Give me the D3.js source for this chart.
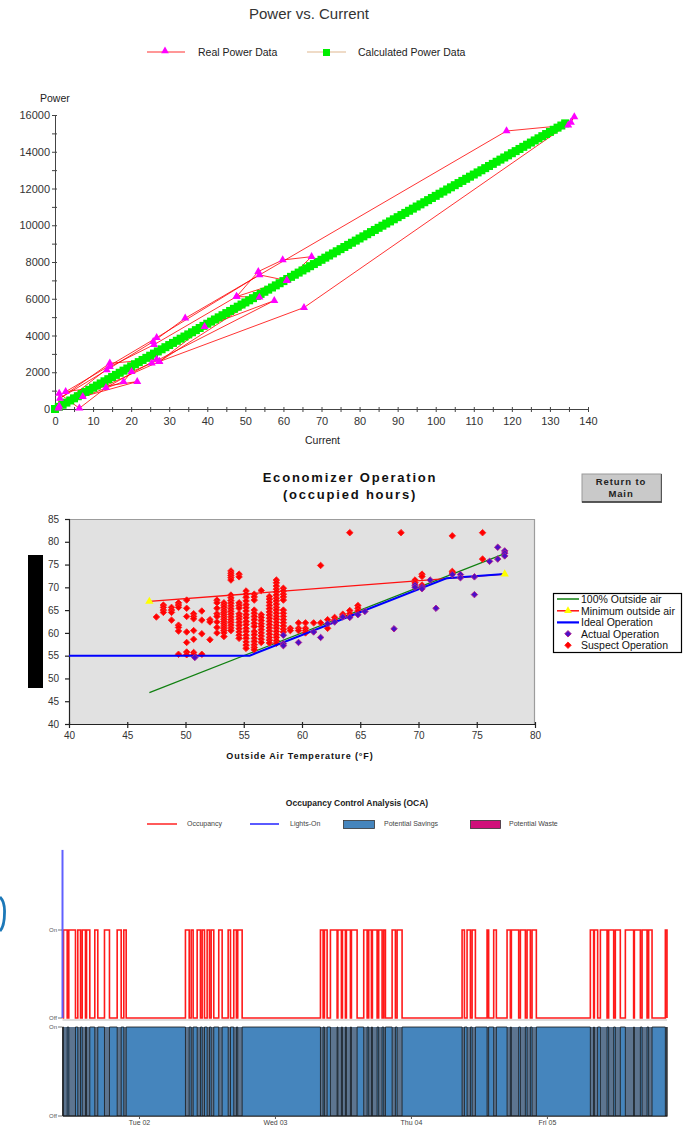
<!DOCTYPE html>
<html><head><meta charset="utf-8">
<script src="https://cdnjs.cloudflare.com/ajax/libs/d3/7.8.5/d3.min.js"></script>
<style>
body{margin:0;background:#fff}
svg{display:block}
text{font-family:"Liberation Sans",Arial,Helvetica,sans-serif}
</style>
</head><body>
<svg id="c" width="690" height="1126"></svg>
<script>
// ---------------- Chart 1: Power vs. Current ----------------
const currentTicks = [0,10,20,30,40,50,60,70,80,90,100,110,120,130,140];
const currentMinor = [5,15,25,35,45,55,65,75,85,95,105,115,125,135];
const powerTicks = [0,2000,4000,6000,8000,10000,12000,14000,16000];
const powerMinor = [1000,3000,5000,7000,9000,11000,13000,15000];

const calcCurrent = [0,1,2,3,4,5,6,7,8,9,10,11,12,13,14,15,16,17,18,19,20,21,22,23,24,25,26,27,28,29,30,31,32,33,34,35,36,37,38,39,40,41,42,43,44,45,46,47,48,49,50,51,52,53,54,55,56,57,58,59,60,61,62,63,64,65,66,67,68,69,70,71,72,73,74,75,76,77,78,79,80,81,82,83,84,85,86,87,88,89,90,91,92,93,94,95,96,97,98,99,100,101,102,103,104,105,106,107,108,109,110,111,112,113,114,115,116,117,118,119,120,121,122,123,124,125,126,127,128,129,130,131,132,133,134];
const calcPower = [0,116,232,348,464,580,696,812,928,1044,1160,1276,1392,1508,1624,1740,1856,1972,2088,2204,2320,2436,2552,2668,2784,2900,3016,3132,3248,3364,3480,3596,3712,3828,3944,4060,4176,4292,4408,4524,4640,4756,4872,4988,5104,5220,5336,5452,5568,5684,5800,5916,6032,6148,6264,6380,6496,6612,6728,6844,6960,7076,7192,7308,7424,7540,7656,7772,7888,8004,8120,8236,8352,8468,8584,8700,8816,8932,9048,9164,9280,9396,9512,9628,9744,9860,9976,10092,10208,10324,10440,10556,10672,10788,10904,11020,11136,11252,11368,11484,11600,11716,11832,11948,12064,12180,12296,12412,12528,12644,12760,12876,12992,13108,13224,13340,13456,13572,13688,13804,13920,14036,14152,14268,14384,14500,14616,14732,14848,14964,15080,15196,15312,15428,15544];

const realCurrent = [0.9,1.1,6.4,13.4,26.7,14.4,1.3,13.6,25.8,34.2,118.6,134.8,136.4,135.5,65.4,27.4,53.7,47.7,53.4,59.8,67.4,60.9,53.7,26.7,2.8,21.6,7.3,18.0,20.1,25.4,57.6,39.3,27.4,1.1,14.4,26.0,47.7,60.9];
const realPower   = [40,850,40,1160,2700,2490,580,2120,3670,4940,15130,15450,15900,15600,5520,2580,6080,6120,7480,8110,8290,6990,7300,3880,940,1490,670,1490,2030,2490,5900,4480,2580,150,2300,3500,6120,7000];

// ---------------- Chart 2: Economizer Operation ----------------
const econXTicks = [40,45,50,55,60,65,70,75,80];
const econYTicks = [40,45,50,55,60,65,70,75,80,85];
const fullOATemp = [46.9,77.4];
const fullOAVal  = [46.9,77.4];
const minOATemp = [46.9,77.4];
const minOAVal  = [66.9,72.9];
const idealTemp = [40,55.5,72.4,77.4];
const idealVal  = [55,55,72.0,72.9];
const suspectTemps = [47.5,48.1,48.8,49.4,50.1,50.7,51.4,52.1,52.7,53.3,53.9,54.6,55.2,55.9,56.5,57.2,57.8,58.4,59.0,59.7,60.3,61.0,61.6,62.2,62.8,63.5,64.1,64.8,68.5,69.7,70.3,72.9,75.5];
const suspectVals = [
  [63.5],
  [66.1,65.6,65.0,64.5],
  [65.6,65.0,64.5,62.8],
  [66.6,66.1,65.6,61.7,61.2,60.4,55.3],
  [67.2,65.4,63.6,60.2,57.9,55.8,55.2],
  [64.2,63.6,63.1,60.5,58.6,55.7,55.2],
  [64.8,62.8,59.8,55.3],
  [62.9,62.4,58.5],
  [67.2,66.6,65.4,64.2,63.6,62.4,61.2,60.0],
  [66.6,66.1,65.6,65.0,64.5,64.0,63.5,63.0,62.5,62.0,61.5,61.0,60.5,60.0,59.2],
  [73.6,73.1,72.6,72.1,71.6,68.3,67.7,67.1,66.5,65.9,65.3,64.7,64.1,63.5,62.9,62.3,61.7,61.1,60.5],
  [72.9,72.3,66.6,66.0,65.4,64.2,63.6,63.0,62.3,61.6,60.9,60.2,59.5,58.8],
  [69.2,68.5,67.8,67.0,66.2,65.5,64.8,64.0,63.3,62.5,61.8,61.0,60.3,59.5,58.8,58.0,57.3,56.6],
  [68.5,67.9,67.2,65.0,64.3,63.6,62.9,62.1,61.4,60.3,59.6,58.8,58.1,57.4,56.8,56.3],
  [69.3,64.0,63.4,62.7,62.0,61.4,60.7,60.0,59.3,58.6,57.9],
  [68.0,67.4,66.7,66.0,65.3,64.6,63.9,63.2,62.5,61.8,61.1,60.4,59.7,59.0,58.4,57.8],
  [71.6,71.0,70.3,69.6,69.0,68.3,67.6,67.0,66.3,65.6,65.0,64.3,63.6,63.0,62.3,61.6,61.0,60.3,59.6,59.0,58.3,57.7],
  [69.8,69.2,68.5,67.9,67.2,65.0,64.3,63.6,62.9,62.2,61.5,60.8,60.2],
  [61.0,60.5],
  [62.2,61.0,60.5],
  [62.2,61.0,60.5,60.0],
  [62.2],
  [74.8,62.2],
  [62.9,61.0],
  [63.4,62.8],
  [64.1,63.7],
  [82.0,64.9,64.2,63.6],
  [66.0,65.4,64.8],
  [82.0],
  [71.6,71.0],
  [72.9,72.4,70.5],
  [81.3,73.5,73.1],
  [82.0,76.2]
];
const actualTemp = [50.8,58.4,58.4,58.4,59.7,61.0,61.6,62.2,62.8,63.5,64.1,64.8,65.4,67.9,69.7,69.7,70.3,70.3,71.0,71.5,72.9,73.6,73.6,74.8,74.8,76.1,76.8,76.8,77.4,77.4,77.4];
const actualVal  = [54.6,59.5,57.6,57.2,57.9,60.2,59.0,62.0,62.4,63.5,63.4,64.0,64.7,60.9,70.5,70.0,70.1,69.7,71.6,65.4,72.8,72.8,72.1,72.3,68.4,75.7,78.8,76.2,78.0,77.5,76.9];
const econLegend = ["100% Outside air","Minimum outside air","Ideal Operation","Actual Operation","Suspect Operation"];

// ---------------- Chart 3: Occupancy Control Analysis ----------------
const occRangeH = [10.5,117.2];   // hours from Mon 01 00:00
const occStartH = [10.68,11.61,13.2,13.98,14.74,16.2,17.91,20.15,21.32,
  32.2,33.21,34.27,35.15,36.03,36.74,38.08,39.74,40.73,41.43,
  56.03,56.73,57.79,59.11,59.91,60.61,61.5,63.67,64.55,65.2,66.31,67.2,68.68,69.56,
  81.03,81.91,82.8,85.44,86.61,88.97,89.73,91.32,92.5,93.38,
  103.67,104.38,105.44,106.9,108.08,109.85,111.44,112.8,113.96,116.91];
const occEndH = [11.33,12.79,13.68,14.56,15.32,16.73,18.79,20.86,21.74,
  32.86,33.56,34.85,35.56,36.44,37.2,38.68,40.15,41.2,42.21,
  56.5,57.21,58.97,59.73,60.44,61.32,62.5,64.27,65.03,66.03,66.91,67.5,69.26,70.44,
  81.44,82.5,83.38,85.72,87.08,89.55,91.02,92.2,93.08,94.14,
  104.25,104.96,106.62,107.79,108.96,111.31,112.5,113.68,114.56,117.2];
const lightsH = [10.5,10.5];
const lightsVal = [1.91,0];
const dayTicksH = [24,48,72,96];
const ocaLegend = ["Occupancy","Lights-On","Potential Savings","Potential Waste"];

// =====================================================================
const svg = d3.select("#c");

// ---------- Chart 1 ----------
(function(){
  const g = svg.append("g");
  const x = d3.scaleLinear().domain([0,140]).range([55,588]);
  const y = d3.scaleLinear().domain([0,16000]).range([409,115]);

  g.append("text").attr("x",309).attr("y",19).attr("text-anchor","middle")
    .attr("font-size",15).attr("fill","#333").text("Power vs. Current");

  const lg = g.append("g");
  lg.append("line").attr("x1",147).attr("x2",185).attr("y1",52).attr("y2",52).attr("stroke","#ff3030").attr("stroke-width",1.2);
  lg.append("path").attr("d",d3.symbol(d3.symbolTriangle,26)()).attr("transform","translate(165,51)").attr("fill","#ff00ff");
  lg.append("text").attr("x",198).attr("y",56).attr("font-size",10.5).attr("fill","#222").text("Real Power Data");
  lg.append("line").attr("x1",307).attr("x2",346).attr("y1",52).attr("y2",52).attr("stroke","#e0b890").attr("stroke-width",1.2);
  lg.append("rect").attr("x",323).attr("y",49).attr("width",7).attr("height",7).attr("fill","#00ee00");
  lg.append("text").attr("x",358).attr("y",56).attr("font-size",10.5).attr("fill","#222").text("Calculated Power Data");

  const ya = g.append("g").attr("transform","translate(55,0)")
    .call(d3.axisLeft(y).tickValues(powerTicks).tickSize(3).tickSizeOuter(0).tickPadding(2).tickFormat(d3.format("d")));
  const ym = g.append("g").attr("transform","translate(55,0)")
    .call(d3.axisLeft(y).tickValues(powerMinor).tickSize(3).tickSizeOuter(0).tickFormat(""));
  ym.select(".domain").remove();
  const xa = g.append("g").attr("transform","translate(0,409)")
    .call(d3.axisBottom(x).tickValues(currentTicks).tickSize(3).tickSizeOuter(0).tickPadding(5));
  const xm = g.append("g").attr("transform","translate(0,409)")
    .call(d3.axisBottom(x).tickValues(currentMinor).tickSize(3).tickSizeOuter(0).tickFormat(""));
  xm.select(".domain").remove();
  [ya,ym].forEach(a=>a.selectAll(".tick line").attr("x2",-3).attr("x1",2));
  [xa,xm].forEach(a=>a.selectAll(".tick line").attr("y1",-2).attr("y2",3));
  [ya,ym,xa,xm].forEach(a=>{
    a.selectAll(".domain,.tick line").attr("stroke","#444");
    a.selectAll("text").attr("font-size",11).attr("fill","#333").attr("font-family","Liberation Sans, Arial, sans-serif");
  });

  g.append("text").attr("x",40).attr("y",102).attr("font-size",10.5).attr("fill","#222").text("Power");
  g.append("text").attr("x",305).attr("y",444).attr("font-size",10.5).attr("fill","#222").text("Current");

  const calc = calcCurrent.map((c,i)=>[c,calcPower[i]]);
  const real = realCurrent.map((c,i)=>[c,realPower[i]]);
  const line = d3.line().x(d=>x(d[0])).y(d=>y(d[1]));

  g.append("path").datum(calc).attr("d",line).attr("fill","none").attr("stroke","#e0b890").attr("stroke-width",1);
  g.append("path").datum(real).attr("d",line).attr("fill","none").attr("stroke","#ff0000").attr("stroke-width",1).attr("stroke-opacity",0.8);
  g.selectAll(".sq").data(calc).join("rect").attr("x",d=>x(d[0])-4).attr("y",d=>y(d[1])-4)
    .attr("width",8).attr("height",8).attr("fill","#00f000");
  g.selectAll(".tri").data(real).join("path").attr("d",d3.symbol(d3.symbolTriangle,28)())
    .attr("transform",d=>`translate(${x(d[0])},${y(d[1])})`).attr("fill","#ff00ff");
})();

// ---------- Chart 2 ----------
(function(){
  const g = svg.append("g");
  const x = d3.scaleLinear().domain([40,80]).range([69,535]);
  const y = d3.scaleLinear().domain([40,85]).range([724,519]);

  g.append("text").attr("x",350).attr("y",482).attr("text-anchor","middle").attr("font-size",13)
    .attr("font-weight","bold").attr("letter-spacing","1.8px").attr("fill","#111").text("Economizer Operation");
  g.append("text").attr("x",350).attr("y",499).attr("text-anchor","middle").attr("font-size",13)
    .attr("font-weight","bold").attr("letter-spacing","1.8px").attr("fill","#111").text("(occupied hours)");

  g.append("rect").attr("x",582).attr("y",474).attr("width",79).attr("height",28).attr("fill","#c9c9c9").attr("stroke","#9a9a9a");
  g.append("line").attr("x1",582).attr("x2",662).attr("y1",502).attr("y2",502).attr("stroke","#333").attr("stroke-width",1.5);
  g.append("line").attr("x1",661.5).attr("x2",661.5).attr("y1",474).attr("y2",502).attr("stroke","#555").attr("stroke-width",1);
  g.append("text").attr("x",621).attr("y",485).attr("text-anchor","middle").attr("font-size",9.5).attr("font-weight","bold")
    .attr("letter-spacing","0.9px").attr("fill","#222").text("Return to");
  g.append("text").attr("x",621).attr("y",497).attr("text-anchor","middle").attr("font-size",9.5).attr("font-weight","bold")
    .attr("letter-spacing","0.9px").attr("fill","#222").text("Main");

  g.append("rect").attr("x",69).attr("y",519).attr("width",466).attr("height",205).attr("fill","#e1e1e1");
  g.append("path").attr("d","M69,519.5H534.5V724").attr("fill","none").attr("stroke","#9c9c9c").attr("stroke-width",1.2);

  const ya = g.append("g").attr("transform","translate(69,0)")
    .call(d3.axisLeft(y).tickValues(econYTicks).tickSize(4).tickSizeOuter(0).tickPadding(6));
  const xa = g.append("g").attr("transform","translate(0,724)")
    .call(d3.axisBottom(x).tickValues(econXTicks).tickSize(4).tickSizeOuter(0).tickPadding(4));
  ya.selectAll(".tick line").attr("x1",1);
  xa.selectAll(".tick line").attr("y1",-2);
  [ya,xa].forEach(a=>{
    a.selectAll(".domain,.tick line").attr("stroke","#222").attr("stroke-width",1.2);
    a.selectAll("text").attr("font-size",10).attr("fill","#333").attr("font-family","Liberation Sans, Arial, sans-serif");
  });

  g.append("text").attr("x",300).attr("y",759).attr("text-anchor","middle").attr("font-size",9)
    .attr("font-weight","bold").attr("letter-spacing","0.9px").attr("fill","#111").text("Outside Air Temperature (°F)");

  g.append("rect").attr("x",28).attr("y",555).attr("width",15).attr("height",133).attr("fill","#000");

  const line = d3.line().x(d=>x(d[0])).y(d=>y(d[1]));
  const full = fullOATemp.map((t,i)=>[t,fullOAVal[i]]);
  const minOA = minOATemp.map((t,i)=>[t,minOAVal[i]]);
  const ideal = idealTemp.map((t,i)=>[t,idealVal[i]]);
  g.append("path").datum(full).attr("d",line).attr("fill","none").attr("stroke","#108010").attr("stroke-width",1.2);
  g.append("path").datum(minOA).attr("d",line).attr("fill","none").attr("stroke","#ff1010").attr("stroke-width",1.3);

  const suspect = [];
  suspectTemps.forEach((t,i)=>suspectVals[i].forEach(v=>suspect.push([t,v])));
  const dia = d3.symbol(d3.symbolSquare,21)();
  const pos = d=>`translate(${x(d[0])},${y(d[1])}) rotate(45)`;
  g.selectAll(".sus").data(suspect).join("path").attr("d",dia)
    .attr("transform",pos).attr("fill","#ff0000").attr("stroke","#ff2020").attr("stroke-width",0.9);
  g.append("path").datum(ideal).attr("d",line).attr("fill","none").attr("stroke","#0000ff").attr("stroke-width",2);
  const actual = actualTemp.map((t,i)=>[t,actualVal[i]]);
  g.selectAll(".act").data(actual).join("path").attr("d",dia)
    .attr("transform",pos).attr("fill","#4a10c8").attr("stroke","#b02090").attr("stroke-width",0.9);
  g.selectAll(".ytri").data(minOA).join("path").attr("d",d3.symbol(d3.symbolTriangle,30)())
    .attr("transform",d=>`translate(${x(d[0])},${y(d[1])})`).attr("fill","#ffff00");

  const L = g.append("g");
  L.append("rect").attr("x",553.5).attr("y",593.5).attr("width",128).attr("height",59).attr("fill","#fff").attr("stroke","#000").attr("stroke-width",1.2);
  const rows = [599,610.8,622.4,633.8,645.2];
  econLegend.forEach((name,i)=>{
    const yy = rows[i];
    if(i===0) L.append("line").attr("x1",557).attr("x2",579).attr("y1",yy).attr("y2",yy).attr("stroke","#108010").attr("stroke-width",1.5);
    if(i===1){ L.append("line").attr("x1",557).attr("x2",579).attr("y1",yy).attr("y2",yy).attr("stroke","#ff1010").attr("stroke-width",1.5);
      L.append("path").attr("d",d3.symbol(d3.symbolTriangle,26)()).attr("transform",`translate(568,${yy})`).attr("fill","#ffff00"); }
    if(i===2) L.append("line").attr("x1",557).attr("x2",579).attr("y1",yy).attr("y2",yy).attr("stroke","#0000ff").attr("stroke-width",2.2);
    if(i===3) L.append("path").attr("d",dia).attr("transform",`translate(568,${yy}) rotate(45)`).attr("fill","#4a10c8").attr("stroke","#b02090").attr("stroke-width",0.9);
    if(i===4) L.append("path").attr("d",dia).attr("transform",`translate(568,${yy}) rotate(45)`).attr("fill","#ff0000").attr("stroke","#ff2020").attr("stroke-width",0.9);
    L.append("text").attr("x",581).attr("y",yy).attr("dy","0.36em").attr("font-size",10.5).attr("fill","#111").text(name);
  });
})();

// ---------- Chart 3 ----------
(function(){
  const g = svg.append("g");
  const base = new Date(2001,0,1).getTime();
  const hr = h => new Date(base + h*3600000);
  const x = d3.scaleTime().domain([hr(occRangeH[0]),hr(occRangeH[1])]).range([62.5,667]);
  const yO = d3.scaleLinear().domain([0,1]).range([1018,930]);
  const yS = d3.scaleLinear().domain([0,1]).range([1116,1027]);

  g.append("text").attr("x",357).attr("y",806).attr("text-anchor","middle").attr("font-size",8.5)
    .attr("font-weight","bold").attr("fill","#222").text("Occupancy Control Analysis (OCA)");

  const ly = 824;
  g.append("line").attr("x1",147).attr("x2",177).attr("y1",ly).attr("y2",ly).attr("stroke","#ff5a5a").attr("stroke-width",2);
  g.append("line").attr("x1",250).attr("x2",279).attr("y1",ly).attr("y2",ly).attr("stroke","#5a5aff").attr("stroke-width",2);
  g.append("rect").attr("x",343.5).attr("y",820.5).attr("width",31).attr("height",8).attr("fill","#4585bd").attr("stroke","#333").attr("stroke-width",0.8);
  g.append("rect").attr("x",470.5).attr("y",820.5).attr("width",30).attr("height",8).attr("fill","#d0107a").attr("stroke","#333").attr("stroke-width",0.8);
  [[187,ocaLegend[0]],[290,ocaLegend[1]],[384,ocaLegend[2]],[509,ocaLegend[3]]].forEach(([xx,t])=>{
    g.append("text").attr("x",xx).attr("y",ly).attr("dy","0.35em").attr("font-size",7).attr("fill","#444").text(t);
  });

  const occ = [{t:hr(occRangeH[0]),v:0}];
  occStartH.forEach((s,i)=>{ occ.push({t:hr(s),v:1}); occ.push({t:hr(occEndH[i]),v:0}); });
  const sav = occ.map(d=>({t:d.t,v:1-d.v}));

  g.append("rect").attr("x",62.5).attr("y",1027).attr("width",604.5).attr("height",89).attr("fill","#5d7590");
  const area = d3.area().curve(d3.curveStepAfter).x(d=>x(d.t)).y0(yS(0)).y1(d=>yS(d.v));
  g.append("path").datum(sav).attr("d",area).attr("fill","#4585bd").attr("stroke","#1a1a1a").attr("stroke-width",0.9).attr("stroke-opacity",0.9);

  g.append("line").attr("x1",62.5).attr("x2",667).attr("y1",1020).attr("y2",1020).attr("stroke","#bbb").attr("stroke-width",1);
  g.append("line").attr("x1",62.5).attr("x2",62.5).attr("y1",1027).attr("y2",1116).attr("stroke","#333").attr("stroke-width",1);

  const sline = d3.line().curve(d3.curveStepAfter).x(d=>x(d.t)).y(d=>yO(d.v));
  g.append("path").datum(occ).attr("d",sline).attr("fill","none").attr("stroke","#ff1a1a").attr("stroke-width",1.6);

  const lights = lightsH.map((h,i)=>({t:hr(h),v:lightsVal[i]}));
  g.append("path").datum(lights).attr("d",d3.line().x(d=>x(d.t)).y(d=>yO(d.v))).attr("fill","none")
    .attr("stroke","#6060ff").attr("stroke-width",2);

  const lab = (yy,t)=>{
    g.append("text").attr("x",57).attr("y",yy).attr("dy","0.35em").attr("text-anchor","end").attr("font-size",6).attr("fill","#555").text(t);
    g.append("line").attr("x1",58).attr("x2",62).attr("y1",yy).attr("y2",yy).attr("stroke","#555").attr("stroke-width",0.8);
  };
  lab(yO(1),"On"); lab(yO(0),"Off"); lab(yS(1),"On"); lab(yS(0),"Off");

  const xa = g.append("g").attr("transform","translate(0,1116)")
    .call(d3.axisBottom(x).tickValues(dayTicksH.map(hr)).tickFormat(d3.timeFormat("%a %d")).tickSize(3).tickSizeOuter(0).tickPadding(1));
  xa.selectAll(".domain,.tick line").attr("stroke","#555");
  xa.selectAll("text").attr("font-size",7).attr("fill","#444").attr("font-family","Liberation Sans, Arial, sans-serif");

  g.append("path").attr("d","M0,897 Q5,902 4.5,913 Q4.5,926 0,931").attr("fill","none").attr("stroke","#1c78b8").attr("stroke-width",2.8);
})();
</script>
</body></html>
